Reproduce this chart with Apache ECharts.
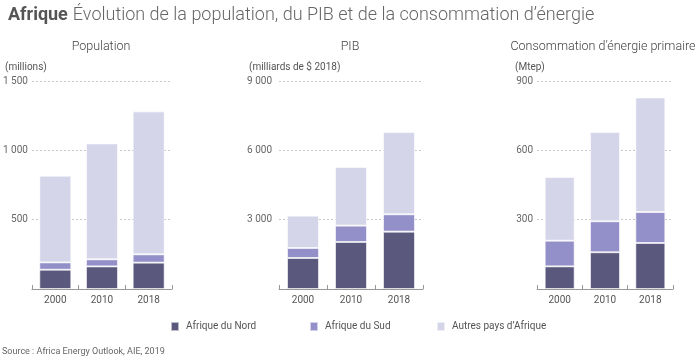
<!DOCTYPE html>
<html><head><meta charset="utf-8">
<script src="https://cdn.jsdelivr.net/npm/echarts@6/dist/echarts.min.js"></script>
<style>html,body{margin:0;padding:0;background:#fff}#c{width:700px;height:357px}</style>
</head><body><div id="c"></div>
<script>
const categories = ['2000', '2010', '2018'];
const seriesNames = ['Afrique du Nord', 'Afrique du Sud', 'Autres pays d\u2019Afrique'];
const popNord = [139, 163, 190];
const popSud = [53, 51, 60];
const popAutres = [625, 836, 1031];
const pibNord = [1342, 2035, 2482];
const pibSud = [433, 707, 750];
const pibAutres = [1399, 2539, 3565];
const nrjNord = [98, 159, 199];
const nrjSud = [111, 134, 134];
const nrjAutres = [276, 386, 496];
const panelTitles = ['Population', 'PIB', 'Consommation d\u2019\u00e9nergie primaire'];
const unitLabels = ['(millions)', '(milliards de $ 2018)', '(Mtep)'];
const yMax = [1500, 9000, 900];
const yInterval = [500, 3000, 300];

const colors = ['#5b587d', '#938fc8', '#d5d5ea'];
const font = 'Roboto, "Noto Sans", sans-serif';
const fmt = v => String(v).replace(/\B(?=(\d{3})+(?!\d))/g, ' ');

const grids = [
  {left: 30, width: 142, top: 81, bottom: 68},
  {left: 279, width: 144, top: 81, bottom: 68},
  {left: 537, width: 136, top: 81, bottom: 68}
];
const labelMargins = [4, 7, 4];
const barWidths = [32, 32, 30];
const panelData = [
  [popNord, popSud, popAutres],
  [pibNord, pibSud, pibAutres],
  [nrjNord, nrjSud, nrjAutres]
];

const xAxis = [], yAxis = [], series = [];
for (let i = 0; i < 3; i++) {
  xAxis.push({
    type: 'category', gridIndex: i, data: categories,
    axisLine: {lineStyle: {color: '#999', width: 1}},
    axisTick: {show: true, inside: true, length: 4, lineStyle: {color: '#999'}},
    axisLabel: {color: '#555', fontSize: 10, fontFamily: font, margin: 6}
  });
  yAxis.push({
    type: 'value', gridIndex: i, min: 0, max: yMax[i], interval: yInterval[i],
    axisLine: {show: false}, axisTick: {show: false},
    axisLabel: {color: '#666', fontSize: 10, fontFamily: font, margin: labelMargins[i],
      formatter: v => v === 0 ? '' : fmt(v)},
    splitLine: {lineStyle: {color: '#c8c8c8', type: [2, 2], width: 1}}
  });
  for (let s = 0; s < 3; s++) {
    series.push({
      type: 'bar', name: seriesNames[s], xAxisIndex: i, yAxisIndex: i,
      stack: 'p' + i, data: panelData[i][s], barWidth: barWidths[i],
      itemStyle: {color: colors[s], borderColor: 'rgba(255,255,255,0.6)', borderWidth: 1},
      silent: true
    });
  }
}

const graphic = [];
const centers = [101, 350, 603];
for (let i = 0; i < 3; i++) {
  graphic.push({type: 'text', x: centers[i], y: 40,
    style: {text: panelTitles[i], fill: '#444', font: '300 12.5px ' + font, textAlign: 'center'}});
}
const unitX = [5, 249, 515];
for (let i = 0; i < 3; i++) {
  graphic.push({type: 'text', left: unitX[i], top: 62,
    style: {text: unitLabels[i], fill: '#555', font: '10px ' + font}});
}
graphic.push({type: 'text', left: 2, top: 347,
  style: {text: 'Source : Africa Energy Outlook, AIE, 2019', fill: '#666', font: '9px ' + font}});

const legendX = [170, 309, 436];
const legend = seriesNames.map((n, k) => ({
  data: [n], left: legendX[k], top: 321, padding: 0, itemWidth: 8, itemHeight: 9, itemGap: 6,
  icon: 'rect', selectedMode: false,
  textStyle: {color: '#555', fontSize: 10, fontFamily: font, padding: [0, 0, 0, 2]}
}));

const chart = echarts.init(document.getElementById('c'), null, {renderer: 'canvas'});
chart.setOption({
  animation: false,
  title: {
    text: '{b|Afrique} {l|\u00c9volution de la population, du PIB et de la consommation d\u2019\u00e9nergie}',
    left: 3, top: 1,
    textStyle: {rich: {
      b: {fontFamily: font, fontWeight: 'bold', fontSize: 18, color: '#555'},
      l: {fontFamily: font, fontWeight: 300, fontSize: 18, color: '#666'}
    }}
  },
  grid: grids,
  xAxis, yAxis, series, legend, graphic
});
</script></body></html>
